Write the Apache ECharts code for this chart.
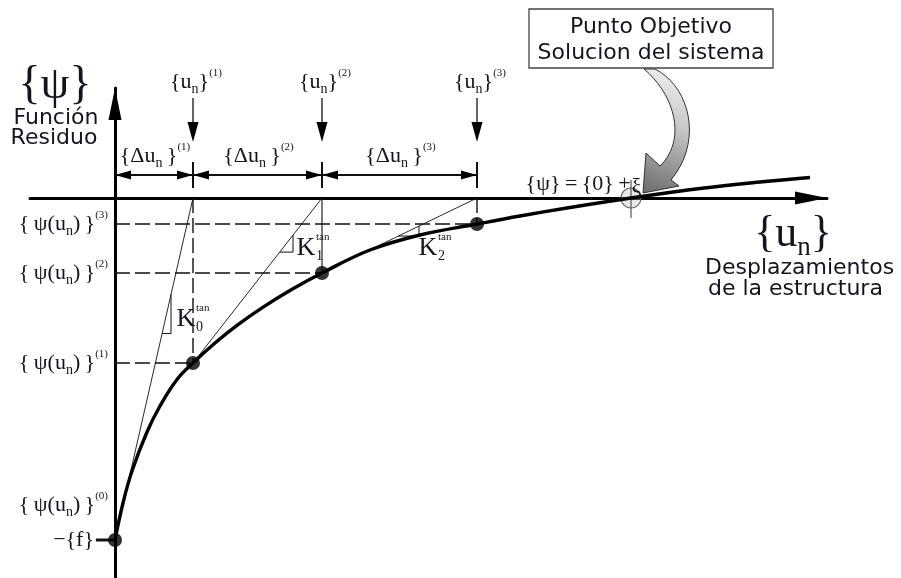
<!DOCTYPE html>
<html>
<head>
<meta charset="utf-8">
<script src="https://cdn.jsdelivr.net/npm/echarts@6/dist/echarts.min.js"></script>
<style>
  html, body { margin: 0; padding: 0; background: #fff; }
  #chart { width: 901px; height: 578px; }
</style>
</head>
<body>
<div id="chart"></div>
<script>
// Newton–Raphson iterations: displacement u_n and residual ψ(u_n)
const iterU   = [0, 0.78, 2.07, 3.62];
const iterPsi = [-3.42, -1.65, -0.75, -0.26];
const iterTags = ['(0)', '(1)', '(2)', '(3)'];

// target point: ψ = 0 (within tolerance ξ)
const rootU = 5.16;
const rootPsi = 0;

// residual function ψ(u)
const curveU   = [0, 0.08, 0.17, 0.32, 0.45, 0.62, 0.78, 1.00, 1.22, 1.47, 1.77, 2.07, 2.55, 3.05, 3.62, 4.05, 4.55, 5.16, 5.85, 6.45, 6.95];
const curvePsi = [-3.42, -3.05, -2.73, -2.34, -2.08, -1.815, -1.65, -1.45, -1.274, -1.099, -0.913, -0.75, -0.52, -0.37, -0.26, -0.18, -0.095, 0, 0.095, 0.16, 0.205];

// tangent stiffness labels
const kNames = ['0', '1', '2'];

const SERIF = '"Liberation Serif", "Times New Roman", serif';
const SANS = '"DejaVu Sans", sans-serif';
const INK = '#15151f';

function R(sz) {
  return {
    sb: { fontFamily: SERIF, fontSize: Math.round(sz * 0.62), fill: INK, verticalAlign: 'bottom', textVerticalAlign: 'bottom' },
    sp: { fontFamily: SERIF, fontSize: Math.round(sz * 0.5), fill: INK, verticalAlign: 'top', textVerticalAlign: 'top' },
    lo: { fontFamily: SERIF, fontSize: Math.round(sz * 0.95), fill: INK, verticalAlign: 'bottom', textVerticalAlign: 'bottom', padding: [0, 0, 0, 1] }
  };
}

function txt(x, y, text, o) {
  o = o || {};
  const align = o.align || 'center';
  const size = o.size || 22;
  return {
    type: 'text', x: x, y: y, silent: true,
    style: {
      text: text, fill: o.fill || INK,
      fontFamily: o.family || SERIF, fontSize: size,
      lineHeight: Math.round(size * 1.25),
      align: align, textAlign: align,
      verticalAlign: 'middle', textVerticalAlign: 'middle',
      rich: o.rich || R(size)
    }
  };
}

function cubic(p0, p1, p2, p3, n) {
  const out = [];
  for (let k = 0; k <= n; k++) {
    const t = k / n, a = 1 - t;
    out.push([
      a*a*a*p0[0] + 3*a*a*t*p1[0] + 3*a*t*t*p2[0] + t*t*t*p3[0],
      a*a*a*p0[1] + 3*a*a*t*p1[1] + 3*a*t*t*p2[1] + t*t*t*p3[1]
    ]);
  }
  return out;
}

function renderNotes(params, api) {
  const P = (u, v) => api.coord([u, v]);
  const kids = [];
  const seg = (a, b, st) => kids.push({
    type: 'line', silent: true,
    shape: { x1: a[0], y1: a[1], x2: b[0], y2: b[1] },
    style: Object.assign({ stroke: '#111', lineWidth: 1, fill: null }, st)
  });
  const poly = (pts, st) => kids.push({
    type: 'polygon', silent: true, shape: { points: pts },
    style: Object.assign({ fill: '#000' }, st)
  });
  const head = (tip, dir, len, half) => {
    const bx = tip[0] - dir[0] * len, by = tip[1] - dir[1] * len;
    poly([tip, [bx - dir[1] * half, by + dir[0] * half], [bx + dir[1] * half, by - dir[0] * half]]);
  };
  const O = P(0, 0);
  const dash = { lineWidth: 1.4, stroke: '#111', lineDash: [15, 5] };

  // tangent lines K_i from each iterate to the next displacement
  for (let i = 0; i < 3; i++) {
    seg(P(iterU[i], iterPsi[i]), P(iterU[i + 1], 0), { lineWidth: 0.9, stroke: '#111' });
  }
  // projections of each iterate on both axes
  for (let i = 1; i < 4; i++) {
    seg(P(0, iterPsi[i]), P(iterU[i], iterPsi[i]), dash);
    seg(P(iterU[i], 0), P(iterU[i], iterPsi[i]), i === 2 ? { lineWidth: 1.1, stroke: '#111' } : dash);
  }

  // slope triangles and K labels
  const tri = [
    { ut: 0.56, drop: 0.39, lab: [15, -14] },
    { ut: 1.78, drop: 0.17, lab: [13, -4] },
    { ut: 3.04, drop: 0.10, lab: [9, 12] }
  ];
  tri.forEach((t, i) => {
    const u0 = iterU[i], p0 = iterPsi[i], s = -p0 / (iterU[i + 1] - u0);
    const topPsi = p0 + s * (t.ut - u0);
    const cPsi = topPsi - t.drop;
    const uL = u0 + (cPsi - p0) / s;
    const top = P(t.ut, topPsi), corner = P(t.ut, cPsi), left = P(uL, cPsi);
    seg(top, corner, { lineWidth: 1, stroke: '#111' });
    seg(corner, left, { lineWidth: 1, stroke: '#111' });
    const c = [corner[0] + t.lab[0], corner[1] + t.lab[1]];
    kids.push(txt(c[0], c[1], 'K', { size: 26 }));
    kids.push(txt(c[0] + 10, c[1] - 11, 'tan', { size: 11, align: 'left' }));
    kids.push(txt(c[0] + 10, c[1] + 8, kNames[i], { size: 14, align: 'left' }));
  });

  // iterate markers above the axis
  for (let i = 1; i < 4; i++) {
    const x = P(iterU[i], 0)[0];
    seg([x, O[1] - 100], [x, O[1] - 70], { lineWidth: 1.3 });
    head([x, O[1] - 56], [0, 1], 20, 5.5);
    kids.push(txt(x + 3, O[1] - 116, '{u{sb|n}}{sp|' + iterTags[i] + '}', { size: 22 }));
  }

  // increment dimension line Δu_n
  const yd = O[1] - 23;
  const xs = iterU.map(u => P(u, 0)[0]);
  seg([xs[0], yd], [xs[3], yd], { lineWidth: 2 });
  for (let k = 0; k < 3; k++) {
    head([xs[k], yd], [-1, 0], 16, 4.5);
    head([xs[k + 1], yd], [1, 0], 16, 4.5);
    seg([xs[k + 1], yd - 13], [xs[k + 1], yd + 13], { lineWidth: 2 });
    kids.push(txt((xs[k] + xs[k + 1]) / 2 + 1, O[1] - 42, '{Δu{sb|n}\u2009}{sp|' + iterTags[k + 1] + '}', { size: 22 }));
  }

  // residual labels on the vertical axis
  const psiLab = tag => '{\u2009ψ(u{sb|n})\u2009}{sp|' + tag + '}';
  for (let i = 1; i < 4; i++) {
    const p = P(0, iterPsi[i]);
    kids.push(txt(p[0] - 7, p[1], psiLab(iterTags[i]), { size: 22, align: 'right' }));
  }
  const p0 = P(0, iterPsi[0]);
  kids.push(txt(p0[0] - 7, p0[1] - 35, psiLab(iterTags[0]), { size: 22, align: 'right' }));
  kids.push(txt(p0[0] - 21, p0[1], '−{f}', { size: 22, align: 'right' }));
  seg([p0[0] - 19, p0[1]], p0, { lineWidth: 3 });

  // axis titles
  kids.push(txt(O[0] - 60, O[1] - 112, '{ψ}', { size: 46 }));
  kids.push(txt(O[0] - 59, O[1] - 80, 'Función', { size: 22, family: SANS }));
  kids.push(txt(O[0] - 61, O[1] - 60, 'Residuo', { size: 22, family: SANS }));
  kids.push(txt(O[0] + 678, O[1] + 36, '{u{sb|n}}', { size: 44 }));
  kids.push(txt(O[0] + 590, O[1] + 70, 'Desplazamientos', { size: 22, family: SANS, align: 'left' }));
  kids.push(txt(O[0] + 593, O[1] + 91, 'de la estructura', { size: 22, family: SANS, align: 'left' }));

  // target point with callout
  const T = P(rootU, rootPsi);
  const rel = q => [T[0] + q[0], T[1] + q[1]];
  const outer = cubic(rel([24, -129]), rel([58, -112]), rel([73, -58]), rel([40, -18]), 18);
  const inner = cubic(rel([29, -32]), rel([56, -58]), rel([44, -103]), rel([13, -129]), 18);
  const arrowPts = outer.concat([rel([48, -12]), rel([12, -5]), rel([15, -45])], inner);
  poly(arrowPts, {
    fill: new echarts.graphic.LinearGradient(0, 1, 1, 0, [
      { offset: 0, color: '#6a6a6a' },
      { offset: 0.55, color: '#c6c6c6' },
      { offset: 1, color: '#f6f6f6' }
    ]),
    stroke: '#333', lineWidth: 1
  });
  kids.push({
    type: 'rect', silent: true,
    shape: { x: T[0] - 102, y: T[1] - 189, width: 244, height: 59 },
    style: { fill: '#fff', stroke: '#444', lineWidth: 1.3 }
  });
  kids.push(txt(T[0] + 20, T[1] - 171, 'Punto Objetivo', { size: 22, family: SANS }));
  kids.push(txt(T[0] + 20, T[1] - 145, 'Solucion del sistema', { size: 22, family: SANS }));

  kids.push({
    type: 'circle', silent: true, shape: { cx: T[0], cy: T[1], r: 10 },
    style: { fill: 'rgba(190,190,190,0.35)', stroke: '#666', lineWidth: 1.2 }
  });
  seg([T[0], T[1] - 18], [T[0], T[1] + 20], { lineWidth: 1.2, stroke: '#555' });
  kids.push(txt(T[0] + 10, T[1] - 14, '{ψ}\u2009=\u2009{0}\u2009+{lo|ξ}', { size: 22, align: 'right' }));

  return { type: 'group', children: kids };
}

const chart = echarts.init(document.getElementById('chart'), null, { renderer: 'canvas' });
chart.setOption({
  animation: false,
  backgroundColor: '#fff',
  grid: { left: 30, right: 74, top: 88, bottom: 0, outerBoundsMode: 'none' },
  xAxis: {
    type: 'value', min: -0.85, max: 7.12,
    axisLine: { onZero: true, lineStyle: { color: '#000', width: 3 },
      symbol: ['none', 'triangle'], symbolSize: [13, 32], symbolOffset: [0, -16] },
    axisTick: { show: false }, axisLabel: { show: false }, splitLine: { show: false }
  },
  yAxis: {
    type: 'value', min: -3.8, max: 1.1,
    axisLine: { onZero: true, lineStyle: { color: '#000', width: 3 },
      symbol: ['none', 'triangle'], symbolSize: [13, 32], symbolOffset: [0, -16] },
    axisTick: { show: false }, axisLabel: { show: false }, splitLine: { show: false }
  },
  series: [
    {
      type: 'custom', name: 'notes', z: 1,
      data: [[0, 0]],
      renderItem: renderNotes
    },
    {
      type: 'line', name: 'ψ(u)', z: 3,
      data: curveU.map((u, i) => [u, curvePsi[i]]),
      smooth: 0.4, showSymbol: false, symbol: 'none',
      lineStyle: { color: '#000', width: 3.4 }
    },
    {
      type: 'scatter', name: 'iterates', z: 4,
      data: iterU.map((u, i) => [u, iterPsi[i]]),
      symbolSize: 14, itemStyle: { color: '#000' }
    }
  ]
});
</script>
</body>
</html>
